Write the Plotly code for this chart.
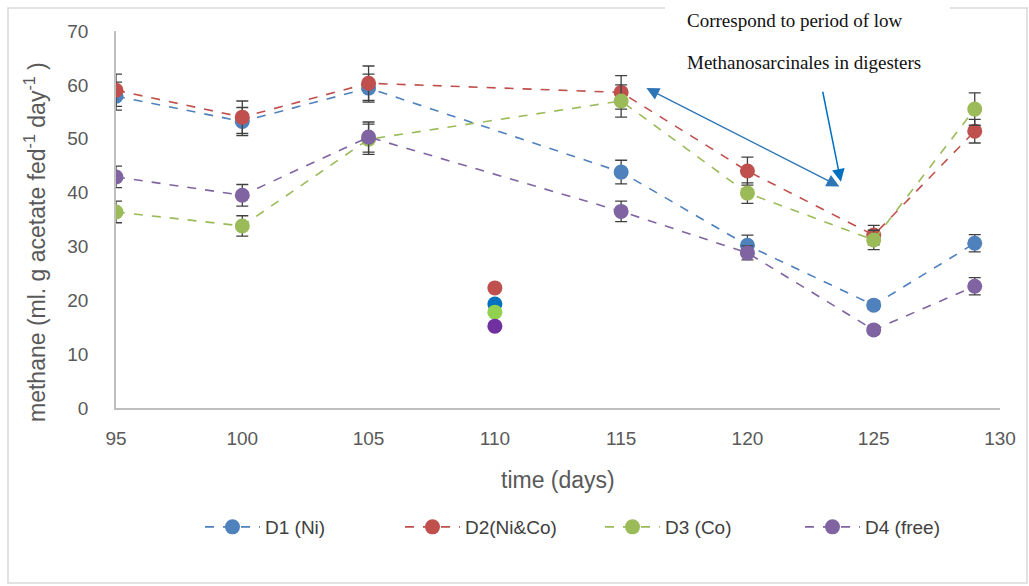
import plotly.graph_objects as go

days = [95, 100, 105, 115, 120, 125, 129]
d1 = [57.9, 53.2, 59.4, 43.8, 30.2, 19.1, 30.6]
d2 = [59.0, 54.0, 60.3, 58.6, 44.0, 32.1, 51.4]
d3 = [36.4, 33.8, 49.9, 57.0, 39.9, 31.2, 55.5]
d4 = [42.9, 39.5, 50.3, 36.5, 28.8, 14.5, 22.6]
e1 = [2.6, 2.6, 2.6, 2.2, 1.9, 0.8, 1.6]
e2 = [3.0, 3.0, 3.2, 3.1, 2.6, 1.8, 2.2]
e3 = [2.0, 1.9, 2.8, 3.0, 1.9, 1.8, 3.0]
e4 = [2.0, 2.0, 2.8, 1.9, 1.3, 0.8, 1.6]

names = ["D1 (Ni)", "D2(Ni&Co)", "D3 (Co)", "D4 (free)"]
colors = ["#4F81BD", "#C0504D", "#9BBB59", "#8064A2"]

day110 = [110, 110, 110, 110]
vals110 = [19.3, 22.3, 17.8, 15.2]
colors110 = ["#0070C0", "#C0504D", "#92D050", "#7030A0"]

fig = go.Figure()
for name, ys, es, c in zip(names, [d1, d2, d3, d4], [e1, e2, e3, e4], colors):
    fig.add_trace(go.Scatter(
        x=days, y=ys, name=name, mode="lines+markers",
        line=dict(color=c, width=1.6, dash="dash"),
        marker=dict(color=c, size=15),
        error_y=dict(type="data", array=es, color="#404040", thickness=1.3, width=6),
    ))

fig.add_trace(go.Scatter(
    x=day110, y=vals110, mode="markers", showlegend=False,
    marker=dict(color=colors110, size=15),
))

font_tick = dict(family="Liberation Sans, Arial", size=19, color="#595959")
font_title = dict(family="Liberation Sans, Arial", size=23, color="#595959")

PW, PH, L, B = 884, 377, 116, 408

fig.update_layout(
    width=1029, height=586,
    margin=dict(l=116, r=29, t=31, b=178),
    paper_bgcolor="white", plot_bgcolor="white",
    showlegend=True,
    legend=dict(orientation="h", x=(600 - L) / PW, xanchor="center", y=(B - 527) / PH, yanchor="middle",
                font=dict(family="Liberation Sans, Arial", size=19, color="#404040"),
                itemwidth=55, entrywidth=130, entrywidthmode="pixels", traceorder="normal"),
    xaxis=dict(range=[95, 130], tickvals=[95, 100, 105, 110, 115, 120, 125, 130],
               showgrid=False, zeroline=False, showline=True, linecolor="#BFBFBF", linewidth=1.5,
               ticks="", tickfont=font_tick, ticklabelstandoff=12),
    yaxis=dict(range=[0, 70], tickvals=[0, 10, 20, 30, 40, 50, 60, 70],
               showgrid=False, zeroline=False, showline=True, linecolor="#BFBFBF", linewidth=1.5,
               ticks="", tickfont=font_tick, ticklabelstandoff=22),
)

# axis titles
fig.add_annotation(xref="paper", yref="paper", x=(558 - L) / PW, y=(B - 480) / PH,
                   xanchor="center", yanchor="middle", showarrow=False,
                   text="time (days)", font=font_title)
fig.add_annotation(xref="paper", yref="paper", x=(35 - L) / PW, y=(B - 242) / PH,
                   xanchor="center", yanchor="middle", showarrow=False, textangle=-90,
                   text="methane (ml. g acetate fed<sup>-1</sup> day<sup>-1</sup> )", font=font_title)

# outer chart-area border
fig.add_shape(type="rect", xref="paper", yref="paper",
              x0=(8 - L) / PW, x1=(1027 - L) / PW,
              y0=(B - 583) / PH, y1=(B - 8) / PH,
              line=dict(color="#D9D9D9", width=1.5), fillcolor="rgba(0,0,0,0)", layer="below")
# white text box behind the note
fig.add_shape(type="rect", xref="paper", yref="paper",
              x0=(665 - L) / PW, x1=(950 - L) / PW,
              y0=(B - 84) / PH, y1=(B - 0) / PH,
              line=dict(width=0), fillcolor="white", layer="below")

serif = dict(family="Liberation Serif, Times New Roman", size=19, color="#111111")
for txt, ypix in [("Correspond to period of low", 20), ("Methanosarcinales in digesters", 62)]:
    fig.add_annotation(xref="paper", yref="paper", x=(685 - L) / PW, y=(B - ypix) / PH,
                       xanchor="left", yanchor="middle", showarrow=False,
                       text=txt, font=serif)

# arrows
fig.add_annotation(x=116.0, y=59.4, ax=123.7, ay=41.0, xref="x", yref="y", axref="x", ayref="y",
                   text="", showarrow=True, arrowhead=2, arrowsize=1.7, arrowwidth=1.5,
                   arrowcolor="#2E75B6", arrowside="end+start", startarrowhead=2, startarrowsize=1.7)
fig.add_annotation(x=123.7, y=42.0, ax=122.97, ay=59.0, xref="x", yref="y", axref="x", ayref="y",
                   text="", showarrow=True, arrowhead=2, arrowsize=1.7, arrowwidth=1.5,
                   arrowcolor="#0070C0")

fig.write_html("out.html")
